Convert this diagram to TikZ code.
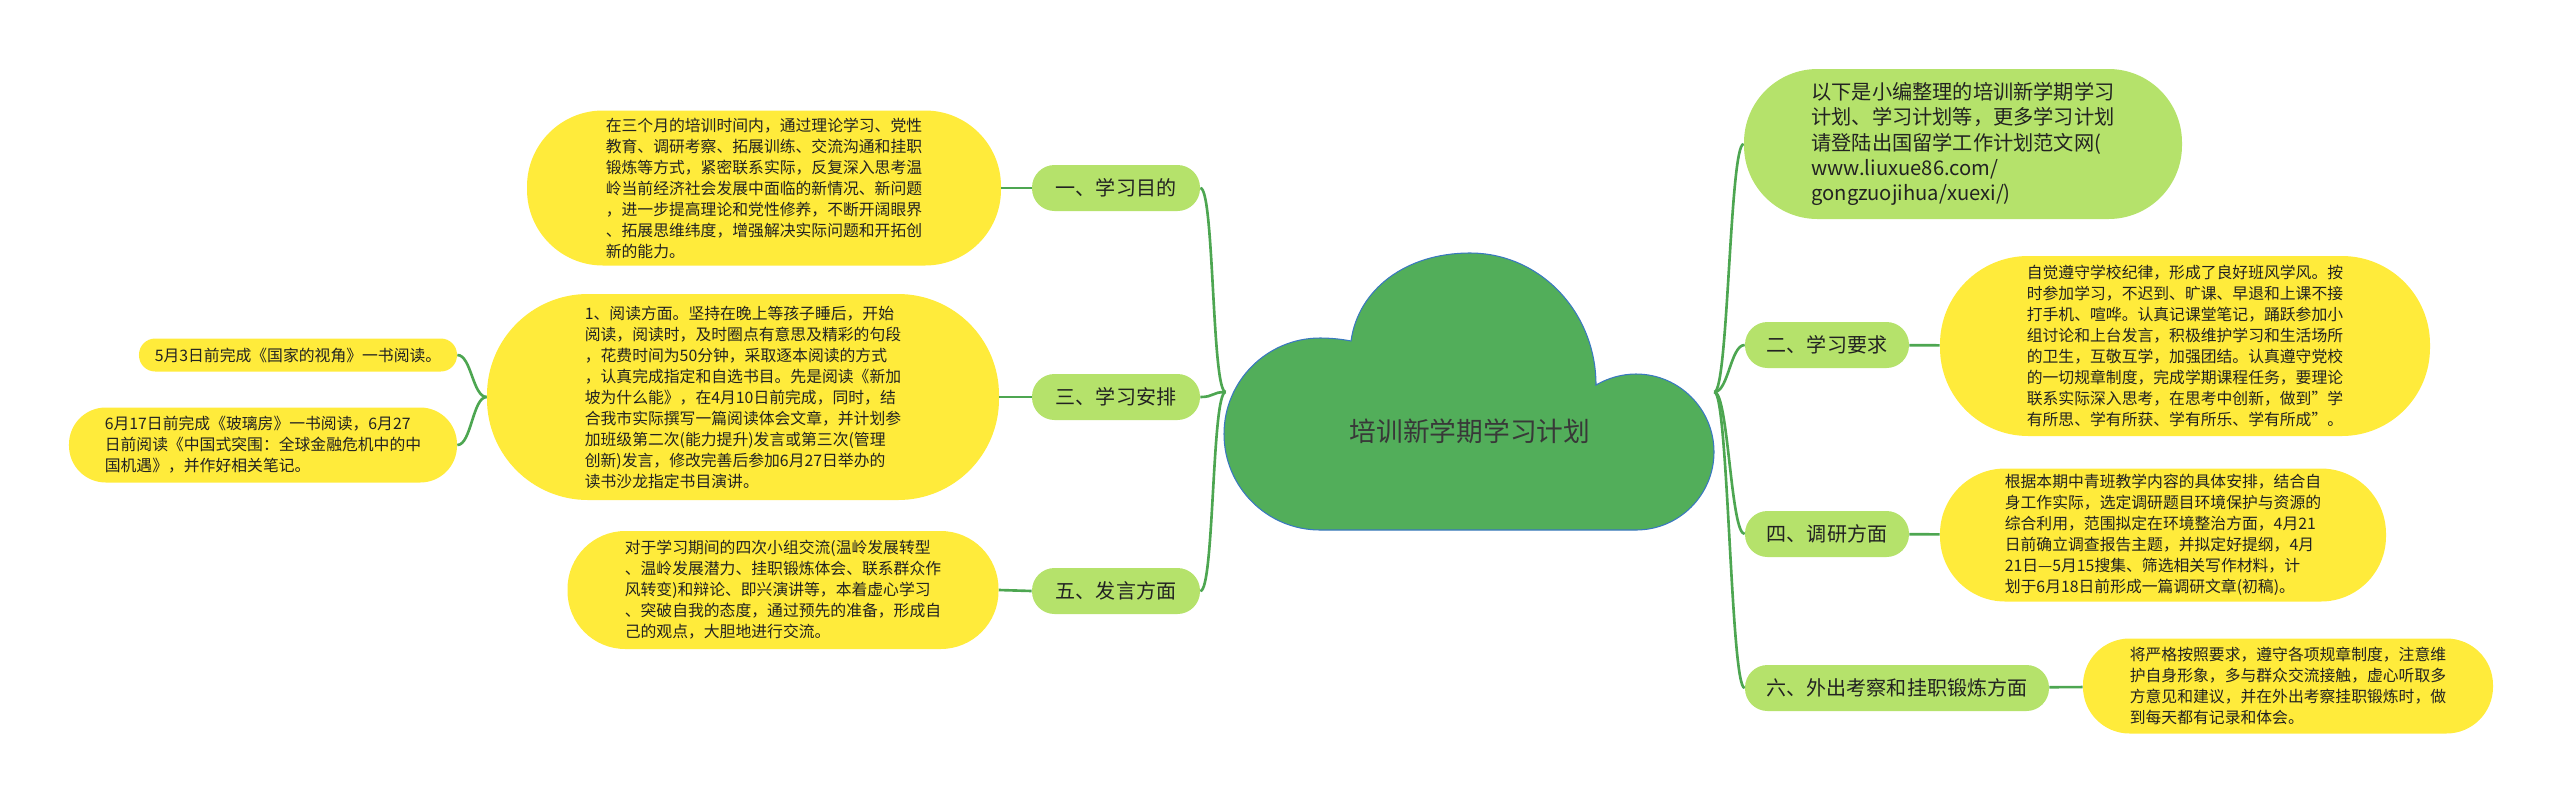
\documentclass[tikz,border=0pt]{standalone}
\usepackage{fontspec}
\setmainfont{Noto Sans CJK SC}
\definecolor{leafyellow}{HTML}{FFEB3B}
\definecolor{branchgreen}{HTML}{B5E26B}
\definecolor{cloudgreen}{HTML}{52AE5A}
\definecolor{cloudblue}{HTML}{3A78C0}
\definecolor{linkgreen}{HTML}{4DA651}
\definecolor{inkgray}{HTML}{222222}

\begin{document}
\begin{tikzpicture}[
    x=0.2mm, y=-0.2mm,
    leaf/.style={fill=leafyellow, align=left, inner sep=0pt, minimum height=#1, rounded corners=0.49*#1, text=inkgray, font=\fontsize{9}{11.95}\selectfont},
    branch/.style={fill=branchgreen, align=left, inner sep=0pt, minimum height=#1, rounded corners=0.49*#1, text=inkgray, font=\fontsize{11.4}{14}\selectfont},
    branch/.default=9.2mm,
    cloudbox/.style={minimum width=97.6mm, minimum height=55.6mm, inner sep=0pt},
    link/.style={draw=linkgreen, line width=1.5pt}
  ]
    \useasboundingbox (0,0) rectangle (2560,803);

    % centre cloud
    \node[cloudbox] (cloud) at (1470,392) {};
    \path[fill=cloudgreen, draw=cloudblue, line width=0.6pt]
      (1320,530) .. controls (1267,530) and (1224,487) .. (1224,434)
      .. controls (1224,381) and (1267,338) .. (1320,338)
      .. controls (1330,338) and (1341,339) .. (1351,341)
      .. controls (1358,290) and (1405,253) .. (1470,253)
      .. controls (1540,253) and (1596,312) .. (1596,385)
      .. controls (1608,378) and (1622,374) .. (1636,374)
      .. controls (1679,374) and (1714,409) .. (1714,452)
      .. controls (1714,495) and (1679,530) .. (1636,530)
      -- cycle;
    \node[text=inkgray!90, font=\fontsize{15.2}{18}\selectfont] (root) at (1470,431) {培训新学期学习计划};

    % left side
    \node[branch, minimum width=33.6mm] (aimtitle) at (1116,188) {一、学习目的};
    \node[branch, minimum width=33.6mm] (plantitle) at (1116,397) {三、学习安排};
    \node[branch, minimum width=33.6mm] (talktitle) at (1116,591) {五、发言方面};

    \node[leaf=31mm, minimum width=94.8mm] (aim) at (764,188) {在三个月的培训时间内，通过理论学习、党性\\教育、调研考察、拓展训练、交流沟通和挂职\\锻炼等方式，紧密联系实际，反复深入思考温\\岭当前经济社会发展中面临的新情况、新问题\\，进一步提高理论和党性修养，不断开阔眼界\\、拓展思维纬度，增强解决实际问题和开拓创\\新的能力。};
    \node[leaf=41.2mm, minimum width=102.4mm] (plan) at (743,397) {1、阅读方面。坚持在晚上等孩子睡后，开始\\阅读，阅读时，及时圈点有意思及精彩的句段\\，花费时间为50分钟，采取逐本阅读的方式\\，认真完成指定和自选书目。先是阅读《新加\\坡为什么能》，在4月10日前完成，同时，结\\合我市实际撰写一篇阅读体会文章，并计划参\\加班级第二次(能力提升)发言或第三次(管理\\创新)发言，修改完善后参加6月27日举办的\\读书沙龙指定书目演讲。};
    \node[leaf=23.6mm, minimum width=86.2mm] (talk) at (783,590) {对于学习期间的四次小组交流(温岭发展转型\\、温岭发展潜力、挂职锻炼体会、联系群众作\\风转变)和辩论、即兴演讲等，本着虚心学习\\、突破自我的态度，通过预先的准备，形成自\\己的观点，大胆地进行交流。};
    \node[leaf=6.6mm, minimum width=63.6mm] (bookA) at (298,355) {5月3日前完成《国家的视角》一书阅读。};
    \node[leaf=15mm, minimum width=77.6mm] (bookB) at (263,445) {6月17日前完成《玻璃房》一书阅读，6月27\\日前阅读《中国式突围：全球金融危机中的中\\国机遇》，并作好相关笔记。};

    % right side
    \node[branch=30mm, minimum width=87.6mm, font=\fontsize{11.5}{14.4}\selectfont] (intro) at (1963,144) {以下是小编整理的培训新学期学习\\计划、学习计划等，更多学习计划\\请登陆出国留学工作计划范文网(\\www.liuxue86.com/\\gongzuojihua/xuexi/)};
    \node[branch, minimum width=32.8mm] (ruletitle) at (1827,345) {二、学习要求};
    \node[branch, minimum width=32.8mm] (surveytitle) at (1827,534) {四、调研方面};
    \node[branch, minimum width=60.8mm] (visittitle) at (1897,688) {六、外出考察和挂职锻炼方面};

    \node[leaf=36mm, minimum width=98mm] (rule) at (2185,346) {自觉遵守学校纪律，形成了良好班风学风。按\\时参加学习，不迟到、旷课、早退和上课不接\\打手机、喧哗。认真记课堂笔记，踊跃参加小\\组讨论和上台发言，积极维护学习和生活场所\\的卫生，互敬互学，加强团结。认真遵守党校\\的一切规章制度，完成学期课程任务，要理论\\联系实际深入思考，在思考中创新，做到"学\\有所思、学有所获、学有所乐、学有所成"。};
    \node[leaf=26.6mm, minimum width=89.2mm] (survey) at (2163,535) {根据本期中青班教学内容的具体安排，结合自\\身工作实际，选定调研题目环境保护与资源的\\综合利用，范围拟定在环境整治方面，4月21\\日前确立调查报告主题，并拟定好提纲，4月\\21日—5月15搜集、筛选相关写作材料，计\\划于6月18日前形成一篇调研文章(初稿)。};
    \node[leaf=19mm, minimum width=82mm] (visit) at (2288,686) {将严格按照要求，遵守各项规章制度，注意维\\护自身形象，多与群众交流接触，虚心听取多\\方意见和建议，并在外出考察挂职锻炼时，做\\到每天都有记录和体会。};

    % connectors
    \draw[link] (cloud.west) .. controls +(-14,0) and +(14,0) .. (aimtitle.east);
    \draw[link] (cloud.west) .. controls +(-14,0) and +(14,0) .. (plantitle.east);
    \draw[link] (cloud.west) .. controls +(-14,0) and +(14,0) .. (talktitle.east);
    \draw[link] (cloud.east) .. controls +(14,0) and +(-14,0) .. (intro.west);
    \draw[link] (cloud.east) .. controls +(14,0) and +(-14,0) .. (ruletitle.west);
    \draw[link] (cloud.east) .. controls +(14,0) and +(-14,0) .. (surveytitle.west);
    \draw[link] (cloud.east) .. controls +(14,0) and +(-14,0) .. (visittitle.west);

    \draw[link] (aimtitle) -- (aim);
    \draw[link] (plantitle) -- (plan);
    \draw[link] (talktitle.west) -- (talk.east);
    \draw[link] (plan.west) .. controls +(-14,0) and +(14,0) .. (bookA.east);
    \draw[link] (plan.west) .. controls +(-14,0) and +(14,0) .. (bookB.east);
    \draw[link] (ruletitle) -- (rule);
    \draw[link] (surveytitle) -- (survey);
    \draw[link] (visittitle) -- (visit);
  \end{tikzpicture}
\end{document}
